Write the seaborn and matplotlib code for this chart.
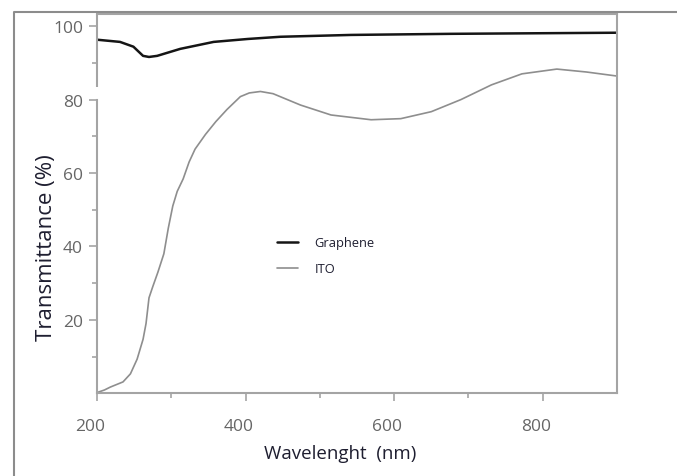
import matplotlib
matplotlib.use("Agg")
import matplotlib.pyplot as plt
import matplotlib.transforms as mtransforms
from matplotlib.lines import Line2D
import seaborn as sns

# wavelength (nm) / transmittance (%)
graphene_nm = [200, 231, 249, 262, 270, 281, 312, 357, 403, 447, 542, 677, 900]
graphene_t = [96.3, 95.7, 94.4, 91.9, 91.6, 91.9, 93.8, 95.7, 96.5, 97.1, 97.6, 97.9, 98.2]

ito_nm = [200, 210, 218, 235, 245, 254, 262, 266, 270, 275, 282, 290, 296, 302, 308,
          316, 324, 332, 346, 360, 375, 393, 405, 420, 437, 474, 515, 569, 609, 650,
          690, 731, 772, 819, 859, 900]
ito_t = [0.2, 0.9, 1.7, 3.1, 5.3, 9.3, 14.7, 19.0, 26.0, 29.0, 33.0, 38.0, 45.0, 51.0, 55.0,
         58.4, 63.0, 66.5, 70.5, 74.0, 77.3, 80.8, 81.8, 82.2, 81.6, 78.5, 75.8, 74.5, 74.8, 76.7,
         80.0, 84.0, 87.0, 88.3, 87.5, 86.4]

x_ticks = [200, 400, 600, 800]
y_ticks = [20, 40, 60, 80, 100]

sns.set_style("ticks")
plt.rcParams['font.family'] = ['Open Sans', 'DejaVu Sans']

fig = plt.figure(figsize=(6.77, 4.77), dpi=100)
ax = fig.add_axes([97 / 677, 1 - 394.3 / 477, 520 / 677, 379.3 / 477])

sns.lineplot(x=graphene_nm, y=graphene_t, ax=ax, color='#151515', linewidth=1.8, label='Graphene')
sns.lineplot(x=ito_nm, y=ito_t, ax=ax, color='#8e8e8e', linewidth=1.2, label='ITO')

ax.set_xlim(200, 900)
ax.set_ylim(0, 103.3)

spine_col = '#a4a4a4'
for s in ax.spines.values():
    s.set_color(spine_col)
    s.set_linewidth(1.5)
# broken left spine
ax.spines['left'].set_bounds(0, 80)
ax.plot([200, 200], [83.5, 103.3], color=spine_col, lw=1.5, clip_on=False,
        solid_capstyle='butt')

ax.set_xticks(x_ticks)
ax.set_xticks([300, 500, 700], minor=True)
ax.set_yticks(y_ticks)
ax.set_yticks([10, 30, 50, 70, 90], minor=True)
ax.tick_params(which='major', length=6, width=1.2, color=spine_col, labelsize=12.5,
               labelcolor='#666666', pad=4)
ax.tick_params(which='minor', length=3.5, width=1.2, color=spine_col)
ax.tick_params(axis='x', which='major', pad=12)

# x tick labels sit a little left of their ticks in the original
shift = mtransforms.ScaledTranslation(-0.07, 0, fig.dpi_scale_trans)
for lab in ax.get_xticklabels():
    lab.set_transform(lab.get_transform() + shift)

ax.set_xlabel('Wavelenght  (nm)', fontsize=13.5, color='#1e1e30')
ax.set_ylabel('Transmittance (%)', fontsize=16, color='#1e1e30')
ax.xaxis.set_label_coords(0.467, -0.133)
ax.yaxis.set_label_coords(-0.077, 0.386)

ax.legend(loc='upper left', bbox_to_anchor=(0.346, 0.414), frameon=False,
          fontsize=9.3, handlelength=1.6, handletextpad=1.3, labelspacing=1.0,
          borderpad=0, borderaxespad=0, labelcolor='#1e1e30')

# outer frame of the scanned figure
fig.add_artist(Line2D([14 / 677, 14 / 677, 1.0], [0.0, 1 - 12.5 / 477, 1 - 12.5 / 477],
                      transform=fig.transFigure, color='#8c8c8c', lw=1.5))

fig.savefig('out.png', dpi=100)
